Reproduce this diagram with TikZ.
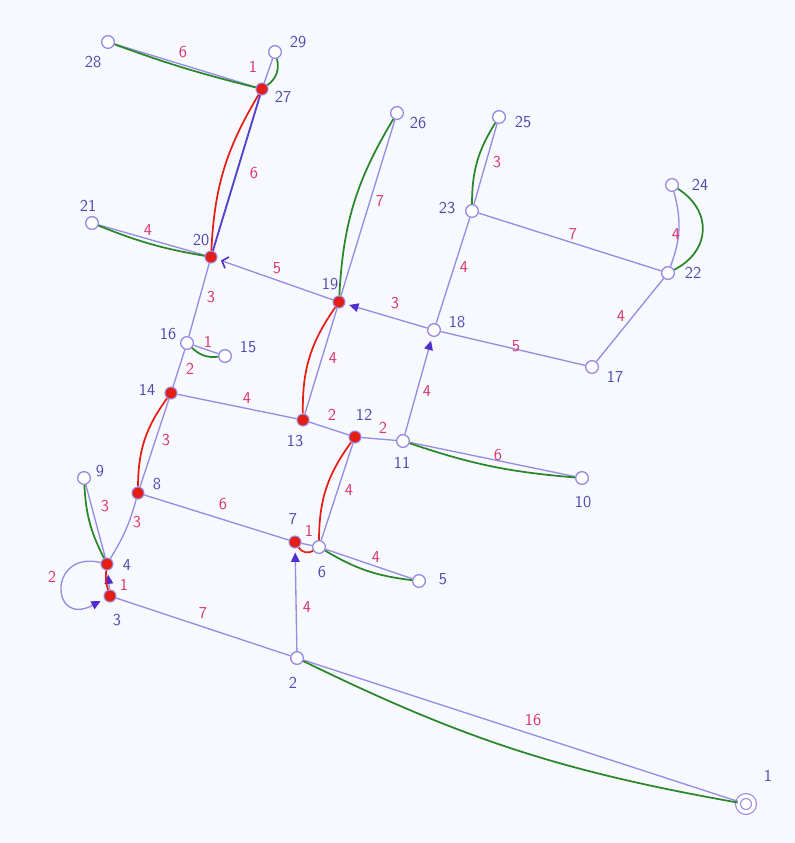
\documentclass[tikz,border=0pt]{standalone}
\usetikzlibrary{arrows.meta,shapes.geometric}
\definecolor{edgec}{RGB}{150,140,228}
\definecolor{darkedge}{RGB}{85,65,205}
\definecolor{wtc}{RGB}{215,55,105}
\definecolor{lblc}{RGB}{85,70,175}
\definecolor{grn}{RGB}{40,135,40}
\definecolor{redp}{RGB}{228,30,20}
\definecolor{arrc}{RGB}{80,45,205}
\definecolor{paper}{RGB}{248,249,254}
\begin{document}
\begin{tikzpicture}[x=0.75pt,y=-0.75pt,
  vopen/.style={circle,draw=edgec,fill=white,line width=1pt,minimum size=9.5pt,inner sep=0pt},
  vred/.style={circle,draw=edgec,fill=redp,line width=0.8pt,minimum size=9pt,inner sep=0pt},
  vroot/.style={circle,draw=edgec,fill=white,line width=0.9pt,double=white,double distance=2.7pt,minimum size=12pt,inner sep=0pt},
  edge/.style={draw=edgec,line width=1pt},
  dedge/.style={draw=darkedge,line width=1.4pt},
  gpath/.style={draw=grn,line width=1.3pt},
  rpath/.style={draw=redp,line width=1.3pt},
  tri/.style={-{Triangle[length=7pt,width=6.5pt,color=arrc]},shorten >=3pt},
  barb/.style={-{Straight Barb[length=4pt,width=9pt,color=arrc,line width=1.2pt]},shorten >=3pt},
  lbl/.style={text=lblc,font=\sffamily\fontsize{12.5}{14}\selectfont,inner sep=0pt},
  wt/.style={text=wtc,font=\sffamily\fontsize{12.5}{14}\selectfont,inner sep=0pt}]
\fill[paper] (0,0) rectangle (795,843);
\useasboundingbox (0,0) rectangle (795,843);

% vertices
\node[vroot] (n1) at (746,804) {};
\node[vopen] (n2) at (297,658) {};
\node[vred]  (n3) at (110,596) {};
\node[vred]  (n4) at (107,564) {};
\node[vopen] (n5) at (419,581) {};
\node[vopen] (n6) at (319,547) {};
\node[vred]  (n7) at (295,542) {};
\node[vred]  (n8) at (138,493) {};
\node[vopen] (n9) at (84,478) {};
\node[vopen] (n10) at (582,478) {};
\node[vopen] (n11) at (403,441) {};
\node[vred]  (n12) at (355,437) {};
\node[vred]  (n13) at (303,420) {};
\node[vred]  (n14) at (171,393) {};
\node[vopen] (n15) at (225,356) {};
\node[vopen] (n16) at (187,343) {};
\node[vopen] (n17) at (592,367) {};
\node[vopen] (n18) at (434,330) {};
\node[vred]  (n19) at (339,302) {};
\node[vred]  (n20) at (211,257) {};
\node[vopen] (n21) at (92,223) {};
\node[vopen] (n22) at (668,273) {};
\node[vopen] (n23) at (472,211) {};
\node[vopen] (n24) at (672,185) {};
\node[vopen] (n25) at (499,117) {};
\node[vopen] (n26) at (397,113) {};
\node[vred]  (n27) at (262,89) {};
\node[vopen] (n28) at (108,42) {};
\node[vopen] (n29) at (275,52) {};

% edges
\draw[edge] (n2) -- (n1);
\draw[edge] (n2) -- (n3);
\draw[edge,tri] (n2) -- (n7);
\draw[edge,tri] (n3) -- (n4);
\draw[edge,tri] (n4) .. controls (48,550) and (50,628) .. (n3);
\draw[edge] (n4) -- (n9);
\draw[edge] (n4) to[bend right=8] (n8);
\draw[edge] (n8) -- (n14);
\draw[edge] (n8) -- (n7);
\draw[edge] (n7) -- (n6);
\draw[edge] (n6) -- (n5);
\draw[edge] (n6) -- (n12);
\draw[edge] (n13) -- (n12);
\draw[edge] (n12) -- (n11);
\draw[edge] (n11) -- (n10);
\draw[edge,tri] (n11) -- (n18);
\draw[edge] (n14) -- (n13);
\draw[edge] (n13) -- (n19);
\draw[edge] (n14) -- (n16);
\draw[edge] (n16) -- (n15);
\draw[edge] (n16) -- (n20);
\draw[edge] (n20) -- (n21);
\draw[edge,barb] (n19) -- (n20);
\draw[edge,tri] (n18) -- (n19);
\draw[edge] (n19) -- (n26);
\draw[edge] (n18) -- (n17);
\draw[edge] (n18) -- (n23);
\draw[edge] (n23) -- (n25);
\draw[edge] (n23) -- (n22);
\draw[edge] (n22) to[bend right=18] (n24);
\draw[edge] (n22) -- (n17);
\draw[dedge] (n20) -- (n27);
\draw[edge] (n27) -- (n28);
\draw[edge] (n27) -- (n29);

% green paths
\draw[gpath] (n28) to[bend right=3] (n27);
\draw[gpath] (n27) to[bend right=35] (n29);
\draw[gpath] (n21) to[bend right=6] (n20);
\draw[gpath] (n19) to[bend left=14] (n26);
\draw[gpath] (n23) to[bend left=16] (n25);
\draw[gpath] (n22) to[bend right=60,looseness=1.3] (n24);
\draw[gpath] (n16) to[bend right=25] (n15);
\draw[gpath] (n4) to[bend left=12] (n9);
\draw[gpath] (n6) to[bend right=12] (n5);
\draw[gpath] (n11) to[bend right=7] (n10);
\draw[gpath] (n2) to[bend right=8] (n1);

% red paths
\draw[rpath] (n20) to[bend left=14] (n27);
\draw[rpath] (n13) to[bend left=18] (n19);
\draw[rpath] (n8) to[bend left=18] (n14);
\draw[rpath] (n6) to[bend left=18] (n12);
\draw[rpath] (n7) to[bend right=45] (n6);
\draw[rpath] (n3) to[bend left=12] (n4);

% vertex labels
\node[lbl] (l1) at (768,776) {1};
\node[lbl] (l2) at (293,683) {2};
\node[lbl] (l3) at (117,620) {3};
\node[lbl] (l4) at (127,565) {4};
\node[lbl] (l5) at (443,579) {5};
\node[lbl] (l6) at (322,572) {6};
\node[lbl] (l7) at (293,519) {7};
\node[lbl] (l8) at (157,484) {8};
\node[lbl] (l9) at (100,471) {9};
\node[lbl] (l10) at (583,502) {10};
\node[lbl] (l11) at (402,463) {11};
\node[lbl] (l12) at (364,415) {12};
\node[lbl] (l13) at (295,441) {13};
\node[lbl] (l14) at (147,390) {14};
\node[lbl] (l15) at (248,347) {15};
\node[lbl] (l16) at (168,334) {16};
\node[lbl] (l17) at (615,377) {17};
\node[lbl] (l18) at (457,322) {18};
\node[lbl] (l19) at (330,284) {19};
\node[lbl] (l20) at (201,240) {20};
\node[lbl] (l21) at (88,206) {21};
\node[lbl] (l22) at (693,273) {22};
\node[lbl] (l23) at (447,208) {23};
\node[lbl] (l24) at (700,185) {24};
\node[lbl] (l25) at (523,122) {25};
\node[lbl] (l26) at (418,123) {26};
\node[lbl] (l27) at (283,97) {27};
\node[lbl] (l28) at (93,62) {28};
\node[lbl] (l29) at (298,42) {29};

% weights
\node[wt] (w1) at (533,720) {16};
\node[wt] (w2) at (203,613) {7};
\node[wt] (w3) at (307,607) {4};
\node[wt] (w4) at (52,577) {2};
\node[wt] (w5) at (124,585) {1};
\node[wt] (w6) at (105,506) {3};
\node[wt] (w7) at (137,522) {3};
\node[wt] (w8) at (223,504) {6};
\node[wt] (w9) at (309,531) {1};
\node[wt] (w10) at (376,557) {4};
\node[wt] (w11) at (349,490) {4};
\node[wt] (w12) at (332,415) {2};
\node[wt] (w13) at (383,428) {2};
\node[wt] (w14) at (498,455) {6};
\node[wt] (w15) at (427,391) {4};
\node[wt] (w16) at (166,440) {3};
\node[wt] (w17) at (247,398) {4};
\node[wt] (w18) at (333,358) {4};
\node[wt] (w19) at (190,369) {2};
\node[wt] (w20) at (208,342) {1};
\node[wt] (w21) at (211,297) {3};
\node[wt] (w22) at (148,230) {4};
\node[wt] (w23) at (277,268) {5};
\node[wt] (w24) at (395,303) {3};
\node[wt] (w25) at (380,201) {7};
\node[wt] (w26) at (516,346) {5};
\node[wt] (w27) at (464,267) {4};
\node[wt] (w28) at (497,162) {3};
\node[wt] (w29) at (573,234) {7};
\node[wt] (w30) at (676,234) {4};
\node[wt] (w31) at (621,316) {4};
\node[wt] (w32) at (254,173) {6};
\node[wt] (w33) at (183,52) {6};
\node[wt] (w34) at (253,67) {1};
\end{tikzpicture}
\end{document}
